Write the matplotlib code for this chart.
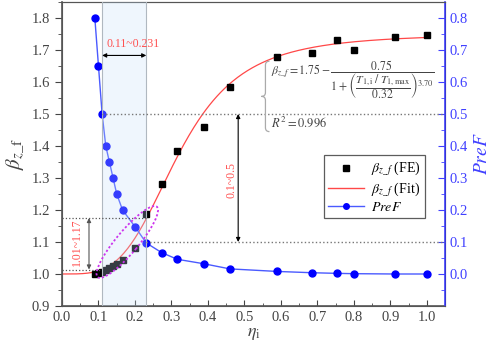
import numpy as np
import matplotlib
matplotlib.use("Agg")
import matplotlib.pyplot as plt
from matplotlib.patches import Ellipse, PathPatch
from matplotlib.path import Path
from matplotlib.lines import Line2D
from matplotlib.ticker import MultipleLocator

plt.rcParams['font.family'] = ['Liberation Serif', 'DejaVu Serif']
plt.rcParams['mathtext.fontset'] = 'stix'

# ---- data ----
eta = [0.09, 0.10, 0.11, 0.12, 0.13, 0.14, 0.15, 0.166, 0.20, 0.231,
       0.273, 0.316, 0.389, 0.46, 0.59, 0.685, 0.754, 0.80, 0.914, 1.0]
beta_fe = [1.000, 1.003, 1.006, 1.012, 1.018, 1.025, 1.032, 1.044, 1.082, 1.188,
           1.282, 1.385, 1.460, 1.583, 1.677, 1.691, 1.731, 1.700, 1.741, 1.747]
pref = [0.80, 0.65, 0.50, 0.40, 0.35, 0.30, 0.25, 0.20, 0.148, 0.097,
        0.067, 0.046, 0.032, 0.016, 0.008, 0.004, 0.002, 0.001, 0.000, 0.000]
# fit parameters (from the equation in the chart)
fit_a, fit_b, fit_x0, fit_p = 1.75, 0.75, 0.32, 3.70

W, H, DPI = 500, 354, 100
fig = plt.figure(figsize=(W / DPI, H / DPI), dpi=DPI)
ax1 = fig.add_axes([62 / W, 1 - 306 / H, (445 - 62) / W, (306 - 2) / H])
ax2 = ax1.twinx()

gray = '#444444'
blue = '#0000ff'
tblue = '#4040ff'

# ---- main series ----
xf = np.linspace(0, 1.0, 300)
yf = fit_a - fit_b / (1 + (xf / fit_x0) ** fit_p)
ax1.plot(xf, yf, color='#ff4848', lw=0.9, zorder=2)
ax1.plot(eta, beta_fe, 's', color='black', ms=5, zorder=3)
ax2.plot(eta, pref, '-', color='#4a5aff', lw=1.0, zorder=2)
ax2.plot(eta, pref, 'o', color=blue, ms=5, zorder=3)

ax1.set_xlim(0, 1.05)
ax1.set_ylim(0.9, 1.85)
ax2.set_ylim(-0.1, 0.85)

# ticks
ax1.xaxis.set_major_locator(MultipleLocator(0.1))
ax1.xaxis.set_minor_locator(MultipleLocator(0.05))
ax1.yaxis.set_major_locator(MultipleLocator(0.1))
ax1.yaxis.set_minor_locator(MultipleLocator(0.05))
ax2.yaxis.set_major_locator(MultipleLocator(0.1))
ax2.yaxis.set_minor_locator(MultipleLocator(0.05))
ax1.set_xticks(np.round(np.arange(0, 1.01, 0.1), 1))
ax1.xaxis.set_major_formatter(matplotlib.ticker.FormatStrFormatter('%.1f'))
ax1.yaxis.set_major_formatter(matplotlib.ticker.FormatStrFormatter('%.1f'))
ax2.yaxis.set_major_formatter(matplotlib.ticker.FormatStrFormatter('%.1f'))
ax2.set_yticks(np.round(np.arange(0, 0.81, 0.1), 1))

ax1.tick_params(axis='x', which='both', direction='in', colors=gray, labelsize=10.5)
ax1.tick_params(axis='x', which='major', length=4)
ax1.tick_params(axis='x', which='minor', length=2)
ax1.tick_params(axis='y', which='both', direction='out', colors=gray, labelsize=10.5)
ax1.tick_params(axis='y', which='major', length=5)
ax1.tick_params(axis='y', which='minor', length=3)
ax2.tick_params(axis='y', which='both', direction='in', colors=tblue, labelsize=10.5)
ax2.tick_params(axis='y', which='major', length=5)
ax2.tick_params(axis='y', which='minor', length=3)

for s in ['left', 'bottom', 'top']:
    ax1.spines[s].set_color('#555555')
    ax2.spines[s].set_color('#555555')
ax2.spines['right'].set_color(tblue)
ax2.spines['right'].set_linewidth(1.2)
ax1.spines['left'].set_linewidth(1.2)
ax1.spines['bottom'].set_linewidth(1.2)

ax1.set_xlabel(r'$\eta_\mathrm{i}$', fontsize=13, color=gray, labelpad=1)
ax1.set_ylabel(r'$\beta_{z\_\mathrm{f}}$', fontsize=15, color=gray, labelpad=4)
ax2.set_ylabel(r'$PreF$', fontsize=14, color=tblue, labelpad=4)

# ---- shaded range (on top, semi-transparent) ----
ax2.axvspan(0.11, 0.231, facecolor='#c6e1f8', alpha=0.27, edgecolor='none', zorder=5)
for xv in (0.11, 0.231):
    ax2.axvline(xv, color='#b0b8c0', lw=0.8, zorder=5)

T = ax1.transData
# dotted reference lines
ax2.plot([0.11, 1.05], [1.5, 1.5], ':', color='#777777', lw=1.0, transform=T, zorder=6)
ax2.plot([0.231, 1.05], [1.1, 1.1], ':', color='#777777', lw=1.0, transform=T, zorder=6)
ax2.plot([0.0, 0.231], [1.175, 1.175], ':', color='#555555', lw=0.9, transform=T, zorder=6)
ax2.plot([0.0, 0.105], [1.014, 1.014], ':', color='#555555', lw=0.9, transform=T, zorder=6)

# arrows
arr = dict(arrowstyle='<|-|>', color='black', lw=0.8, mutation_scale=6, shrinkA=0, shrinkB=0)
ax2.annotate('', xy=(0.11, 1.683), xytext=(0.231, 1.683), xycoords=T, textcoords=T,
             arrowprops=arr, zorder=7)
ax2.annotate('', xy=(0.483, 1.5), xytext=(0.483, 1.1), xycoords=T, textcoords=T,
             arrowprops=arr, zorder=7)
arr2 = dict(arr, color='#555555')
ax2.annotate('', xy=(0.074, 1.175), xytext=(0.074, 1.014), xycoords=T, textcoords=T,
             arrowprops=arr2, zorder=7)

red = '#ff5050'
ax2.text(0.195, 1.72, '0.11~0.231', color=red, fontsize=8.5, ha='center', va='center',
         transform=T, zorder=7)
ax2.text(0.465, 1.294, '0.1~0.5', color=red, fontsize=8.5, ha='center', va='center',
         rotation=90, transform=T, zorder=7)
ax2.text(0.042, 1.098, '1.01~1.17', color=red, fontsize=8.5, ha='center', va='center',
         rotation=90, transform=T, zorder=7)

# ellipse highlighting the cluster (drawn in display coords)
fig.canvas.draw()
cx, cy = T.transform((0.179, 1.100))
ell = Ellipse((cx, cy), width=92, height=22, angle=50, fill=False,
              edgecolor='#cc33ee', ls=(0, (1.2, 1.2)), lw=1.3,
              transform=None, zorder=8)
fig.add_artist(ell)

# equation text
eq = (r'$\beta_{z\_f}=1.75-\dfrac{0.75}{1+\left(\dfrac{T_{1,\mathrm{i}}\;/\;T_{1,\mathrm{max}}}'
      r'{0.32}\right)^{3.70}}$')
ax2.text(0.573, 1.607, eq, color='#444444', fontsize=8.5, ha='left', va='center',
         transform=T, zorder=7)
ax2.text(0.573, 1.472, r'$R^2=0.996$', color='#444444', fontsize=9, ha='left', va='center',
         transform=T, zorder=7)

# brace
bx, by = T.transform((0.555, 1.5))
ytop, ybot = T.transform((0.555, 1.665))[1], T.transform((0.555, 1.445))[1]
ymid = (ytop + ybot) / 2
verts = [(bx + 5, ytop), (bx + 1, ytop), (bx + 1, ytop - 4),
         (bx + 1, ymid + 4), (bx + 1, ymid), (bx - 3, ymid),
         (bx + 1, ymid), (bx + 1, ymid - 4),
         (bx + 1, ybot + 4), (bx + 1, ybot), (bx + 5, ybot)]
codes = [Path.MOVETO, Path.CURVE3, Path.CURVE3,
         Path.LINETO, Path.CURVE3, Path.CURVE3,
         Path.CURVE3, Path.CURVE3,
         Path.LINETO, Path.CURVE3, Path.CURVE3]
fig.add_artist(PathPatch(Path(verts, codes), fill=False, edgecolor='#aaaaaa', lw=0.9,
                         transform=None, zorder=8))

# legend
handles = [Line2D([], [], marker='s', color='black', ls='none', ms=5),
           Line2D([], [], color='#ff4848', lw=1.0),
           Line2D([], [], color='#4a5aff', lw=1.0, marker='o', mfc=blue, mec=blue, ms=4)]
labels = [r'$\beta_{z\_f}$ (FE)', r'$\beta_{z\_f}$ (Fit)', r'$PreF$']
leg = ax2.legend(handles, labels, loc='upper right', bbox_to_anchor=(0.966, 0.518),
                 frameon=True, fancybox=False, edgecolor='#333333', fontsize=10,
                 handlelength=2.6, borderpad=0.3, labelspacing=0.15, handletextpad=0.5)
leg.get_frame().set_linewidth(0.9)
leg.set_zorder(10)

fig.savefig('out.png', dpi=DPI)
